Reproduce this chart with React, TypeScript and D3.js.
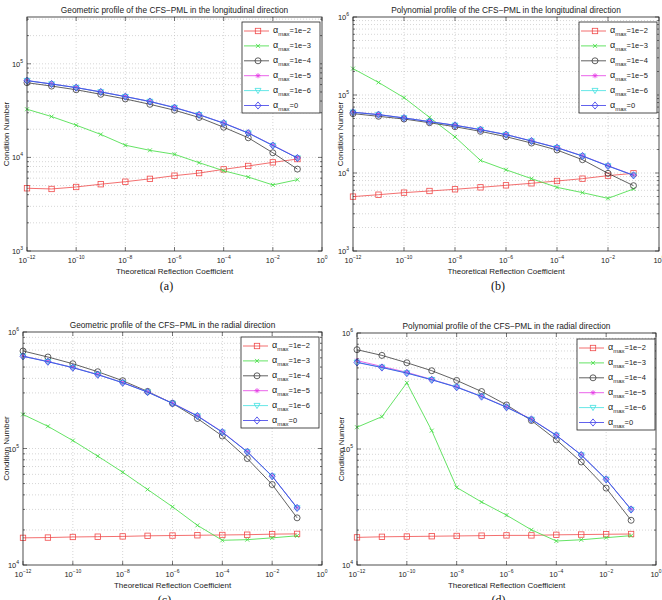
import React, { useEffect, useRef } from 'react';
import * as d3 from 'd3';

const reflection = [1e-12, 1e-11, 1e-10, 1e-9, 1e-8, 1e-7, 1e-6, 1e-5, 1e-4, 1e-3, 1e-2, 1e-1];
const alphaLabels = ['1e\u22122', '1e\u22123', '1e\u22124', '1e\u22125', '1e\u22126', '0'];
const xTicks = [1e-12, 1e-10, 1e-8, 1e-6, 1e-4, 1e-2, 1];

// (a) geometric, longitudinal
const geoLongA2 = [4680, 4600, 4830, 5170, 5500, 5900, 6380, 6800, 7450, 8100, 8850, 9600];
const geoLongA3 = [32700, 27300, 22100, 17600, 13500, 11900, 10800, 8780, 7200, 6170, 5080, 5780];
const geoLongA4 = [62800, 57800, 52800, 47200, 42100, 36900, 31900, 26700, 21000, 16200, 11200, 7500];
const geoLongA5 = [66300, 61000, 55800, 50200, 44700, 39700, 34200, 28700, 23300, 18300, 13500, 9900];
const geoLongA6 = [66200, 60900, 55700, 50100, 44600, 39600, 34100, 28600, 23200, 18200, 13400, 9850];
const geoLongA0 = [66000, 60800, 55600, 50000, 44600, 39500, 34000, 28500, 23200, 18200, 13400, 9850];

// (b) polynomial, longitudinal
const polyLongA2 = [4980, 5270, 5600, 5880, 6180, 6550, 6950, 7380, 7900, 8460, 9250, 9900];
const polyLongA3 = [218000, 145000, 92500, 51700, 29000, 14500, 11000, 8460, 6550, 5600, 4730, 6240];
const polyLongA4 = [57700, 53300, 49200, 44100, 39200, 34200, 29200, 24200, 19700, 14800, 9900, 6880];
const polyLongA5 = [60300, 56200, 50900, 45700, 41000, 36100, 31200, 25800, 21200, 16600, 12400, 9400];
const polyLongA6 = [60100, 56100, 50800, 45600, 40900, 36000, 31100, 25700, 21100, 16500, 12300, 9350];
const polyLongA0 = [60000, 56000, 50700, 45500, 40800, 35900, 31000, 25700, 21100, 16500, 12300, 9330];

// (c) geometric, radial
const geoRadA2 = [17100, 17200, 17400, 17500, 17600, 17800, 17900, 18000, 18100, 18200, 18400, 18500];
const geoRadA3 = [196000, 155000, 117000, 86000, 62600, 44500, 31600, 21900, 16300, 16500, 17100, 17800];
const geoRadA4 = [687000, 610000, 534000, 456000, 382000, 309000, 244000, 181000, 128000, 82000, 49100, 25400];
const geoRadA5 = [622000, 559000, 496000, 432000, 368000, 306000, 245000, 191000, 139000, 94000, 58000, 31000];
const geoRadA6 = [620000, 557000, 495000, 431000, 367000, 305000, 244000, 190000, 138000, 93700, 57900, 30900];
const geoRadA0 = [618000, 556000, 494000, 430000, 367000, 305000, 244000, 190000, 138000, 93600, 57800, 30900];

// (d) polynomial, radial
const polyRadA2 = [17300, 17500, 17600, 17700, 17800, 17900, 18000, 18000, 18200, 18300, 18400, 18500];
const polyRadA3 = [154000, 190000, 372000, 144000, 46600, 34900, 26900, 20100, 16100, 16500, 17200, 17900];
const polyRadA4 = [718000, 641000, 554000, 473000, 390000, 313000, 240000, 176000, 120000, 77300, 46000, 24300];
const polyRadA5 = [578000, 514000, 458000, 398000, 343000, 285000, 230000, 181000, 131500, 89000, 54900, 30200];
const polyRadA6 = [560000, 506000, 452000, 396000, 342000, 284000, 229000, 180000, 131000, 88800, 54800, 30100];
const polyRadA0 = [557000, 504000, 451000, 395000, 341000, 283000, 229000, 180000, 131000, 88700, 54700, 30100];

const seriesStyle = [
  { color: '#f04a4a', marker: 'square' },
  { color: '#3ddc3d', marker: 'x' },
  { color: '#3a3a3a', marker: 'circle' },
  { color: '#e53be5', marker: 'star' },
  { color: '#3fe0e0', marker: 'tri' },
  { color: '#3a3ae8', marker: 'diamond' },
];

const panels = [
  {
    title: 'Geometric profile of the CFS\u2212PML in the longitudinal direction',
    caption: '(a)',
    box: { left: 27, right: 322, top: 17, bottom: 251 },
    yDomain: [1e3, Math.pow(10, 5.5)],
    yTicks: [1e3, 1e4, 1e5],
    yLabelX: 9,
    legend: { x: 242, y: 22 },
    series: [geoLongA2, geoLongA3, geoLongA4, geoLongA5, geoLongA6, geoLongA0],
  },
  {
    title: 'Polynomial profile of the CFS\u2212PML in the longitudinal direction',
    caption: '(b)',
    box: { left: 353, right: 659, top: 17, bottom: 251 },
    yDomain: [1e3, 1e6],
    yTicks: [1e3, 1e4, 1e5, 1e6],
    yLabelX: 343,
    legend: { x: 579, y: 22 },
    series: [polyLongA2, polyLongA3, polyLongA4, polyLongA5, polyLongA6, polyLongA0],
  },
  {
    title: 'Geometric profile of the CFS\u2212PML in the radial direction',
    caption: '(c)',
    box: { left: 23, right: 322, top: 332, bottom: 565 },
    yDomain: [1e4, 1e6],
    yTicks: [1e4, 1e5, 1e6],
    yLabelX: 9,
    legend: { x: 241, y: 337 },
    series: [geoRadA2, geoRadA3, geoRadA4, geoRadA5, geoRadA6, geoRadA0],
  },
  {
    title: 'Polynomial profile of the CFS\u2212PML in the radial direction',
    caption: '(d)',
    box: { left: 357, right: 656, top: 333, bottom: 565 },
    yDomain: [1e4, 1e6],
    yTicks: [1e4, 1e5, 1e6],
    yLabelX: 344,
    legend: { x: 577, y: 339 },
    series: [polyRadA2, polyRadA3, polyRadA4, polyRadA5, polyRadA6, polyRadA0],
  },
];

const font = '"Liberation Sans", Arial, sans-serif';

function drawMarker(g: any, type: string, x: number, y: number, color: string) {
  const s = g.append('g').attr('fill', 'none').attr('stroke', color).attr('stroke-width', 0.8);
  if (type === 'square') {
    s.append('rect').attr('x', x - 2.7).attr('y', y - 2.7).attr('width', 5.4).attr('height', 5.4);
  } else if (type === 'x') {
    s.append('path').attr('d', `M${x - 2},${y - 2}L${x + 2},${y + 2}M${x - 2},${y + 2}L${x + 2},${y - 2}`);
  } else if (type === 'circle') {
    s.append('circle').attr('cx', x).attr('cy', y).attr('r', 3);
  } else if (type === 'star') {
    s.append('path').attr(
      'd',
      `M${x - 2.6},${y}L${x + 2.6},${y}M${x},${y - 2.6}L${x},${y + 2.6}M${x - 1.9},${y - 1.9}L${x + 1.9},${y + 1.9}M${x - 1.9},${y + 1.9}L${x + 1.9},${y - 1.9}`
    );
  } else if (type === 'tri') {
    s.append('path').attr('d', `M${x - 3},${y - 2.2}L${x + 3},${y - 2.2}L${x},${y + 3}Z`);
  } else if (type === 'diamond') {
    s.append('path').attr('d', `M${x},${y - 3.6}L${x + 3},${y}L${x},${y + 3.6}L${x - 3},${y}Z`);
  }
}

function powLabel(g: any, x: number, y: number, exp: number, anchor: string) {
  const t = g
    .append('text')
    .attr('x', x)
    .attr('y', y)
    .attr('text-anchor', anchor)
    .attr('font-family', font)
    .attr('font-size', 7.5)
    .attr('fill', '#222');
  t.append('tspan').text('10');
  t.append('tspan')
    .attr('dy', -4)
    .attr('font-size', 5)
    .text(exp < 0 ? `\u2212${-exp}` : `${exp}`);
}

const App = () => {
  const svgRef = useRef<SVGSVGElement | null>(null);

  useEffect(() => {
    const svg = d3.select(svgRef.current);
    svg.selectAll('*').remove();

    panels.forEach((p) => {
      const { left, right, top, bottom } = p.box;
      const x = d3.scaleLog().domain([1e-12, 1]).range([left, right]);
      const y = d3.scaleLog().domain(p.yDomain).range([bottom, top]);
      const g = svg.append('g');

      g.append('rect')
        .attr('x', left)
        .attr('y', top)
        .attr('width', right - left)
        .attr('height', bottom - top)
        .attr('fill', '#fff');

      // grid: y majors + minors
      const lo = Math.log10(p.yDomain[0]);
      const hi = Math.log10(p.yDomain[1]);
      const yGrid: number[] = [];
      const yMinor: number[] = [];
      for (let e = Math.floor(lo); e <= Math.ceil(hi); e++) {
        for (let m = 1; m <= 9; m++) {
          const v = m * Math.pow(10, e);
          if (v > p.yDomain[0] * 1.0001 && v < p.yDomain[1] * 0.9999) {
            yGrid.push(v);
            if (m !== 1) yMinor.push(v);
          }
        }
      }
      g.selectAll('.hg')
        .data(yGrid)
        .enter()
        .append('line')
        .attr('x1', left)
        .attr('x2', right)
        .attr('y1', (d) => y(d))
        .attr('y2', (d) => y(d))
        .attr('stroke', '#bbb')
        .attr('stroke-width', 0.6)
        .attr('stroke-dasharray', '1,2');
      g.selectAll('.vg')
        .data(xTicks.slice(1, -1))
        .enter()
        .append('line')
        .attr('x1', (d) => x(d))
        .attr('x2', (d) => x(d))
        .attr('y1', top)
        .attr('y2', bottom)
        .attr('stroke', '#bbb')
        .attr('stroke-width', 0.6)
        .attr('stroke-dasharray', '1,2');

      // tick marks
      const tk = g.append('g').attr('stroke', '#222').attr('stroke-width', 0.6);
      xTicks.forEach((v) => {
        tk.append('line').attr('x1', x(v)).attr('x2', x(v)).attr('y1', bottom).attr('y2', bottom - 4);
        tk.append('line').attr('x1', x(v)).attr('x2', x(v)).attr('y1', top).attr('y2', top + 4);
      });
      p.yTicks.forEach((v) => {
        tk.append('line').attr('x1', left).attr('x2', left + 4).attr('y1', y(v)).attr('y2', y(v));
        tk.append('line').attr('x1', right).attr('x2', right - 4).attr('y1', y(v)).attr('y2', y(v));
      });
      yMinor.forEach((v) => {
        tk.append('line').attr('x1', left).attr('x2', left + 2).attr('y1', y(v)).attr('y2', y(v));
        tk.append('line').attr('x1', right).attr('x2', right - 2).attr('y1', y(v)).attr('y2', y(v));
      });

      // tick labels
      xTicks.forEach((v) => powLabel(g, x(v), bottom + 12, Math.round(Math.log10(v)), 'middle'));
      p.yTicks.forEach((v) => powLabel(g, left - 4, y(v) + 3, Math.round(Math.log10(v)), 'end'));

      // series
      p.series.forEach((vals, i) => {
        const st = seriesStyle[i];
        const pts = reflection.map((r, j) => [x(r), y(vals[j])] as [number, number]);
        g.append('path')
          .attr('d', d3.line()(pts))
          .attr('fill', 'none')
          .attr('stroke', st.color)
          .attr('stroke-width', 0.8);
        pts.forEach(([px, py]) => drawMarker(g, st.marker, px, py, st.color));
      });

      // box
      g.append('rect')
        .attr('x', left)
        .attr('y', top)
        .attr('width', right - left)
        .attr('height', bottom - top)
        .attr('fill', 'none')
        .attr('stroke', '#222')
        .attr('stroke-width', 0.8);

      // legend
      const lw = 78;
      const lh = 91;
      const lg = g.append('g').attr('transform', `translate(${p.legend.x},${p.legend.y})`);
      lg.append('rect')
        .attr('width', lw)
        .attr('height', lh)
        .attr('fill', '#fff')
        .attr('stroke', '#222')
        .attr('stroke-width', 0.8);
      alphaLabels.forEach((lab, i) => {
        const st = seriesStyle[i];
        const ly = 9 + i * 14.9;
        lg.append('line')
          .attr('x1', 2)
          .attr('x2', 27)
          .attr('y1', ly)
          .attr('y2', ly)
          .attr('stroke', st.color)
          .attr('stroke-width', 0.8);
        drawMarker(lg, st.marker, 16, ly, st.color);
        const t = lg
          .append('text')
          .attr('x', 31)
          .attr('y', ly + 2)
          .attr('font-family', font)
          .attr('fill', '#222');
        t.append('tspan').attr('font-size', 9).text('\u03b1');
        t.append('tspan').attr('font-size', 6).attr('dy', 3).text('max');
        t.append('tspan').attr('font-size', 7.5).attr('dy', -3).text(`=${lab}`);
      });

      // titles and labels
      g.append('text')
        .attr('x', (left + right) / 2)
        .attr('y', top - 4)
        .attr('text-anchor', 'middle')
        .attr('font-family', font)
        .attr('font-size', 8.3)
        .attr('fill', '#222')
        .text(p.title);
      g.append('text')
        .attr('x', (left + right) / 2)
        .attr('y', bottom + 23)
        .attr('text-anchor', 'middle')
        .attr('font-family', font)
        .attr('font-size', 8)
        .attr('fill', '#222')
        .text('Theoretical Reflection Coefficient');
      g.append('text')
        .attr('transform', `translate(${p.yLabelX},${(top + bottom) / 2}) rotate(-90)`)
        .attr('text-anchor', 'middle')
        .attr('font-family', font)
        .attr('font-size', 8)
        .attr('fill', '#222')
        .text('Condition Number');
      g.append('text')
        .attr('x', (left + right) / 2 - 8)
        .attr('y', bottom + 39)
        .attr('text-anchor', 'middle')
        .attr('font-family', '"Liberation Serif", "Times New Roman", serif')
        .attr('font-size', 12)
        .attr('fill', '#111')
        .text(p.caption);
    });
  }, []);

  return (
    <svg
      ref={svgRef}
      width={662}
      height={600}
      style={{ position: 'absolute', left: 0, top: 0, background: '#fff' }}
    />
  );
};

export default App;
